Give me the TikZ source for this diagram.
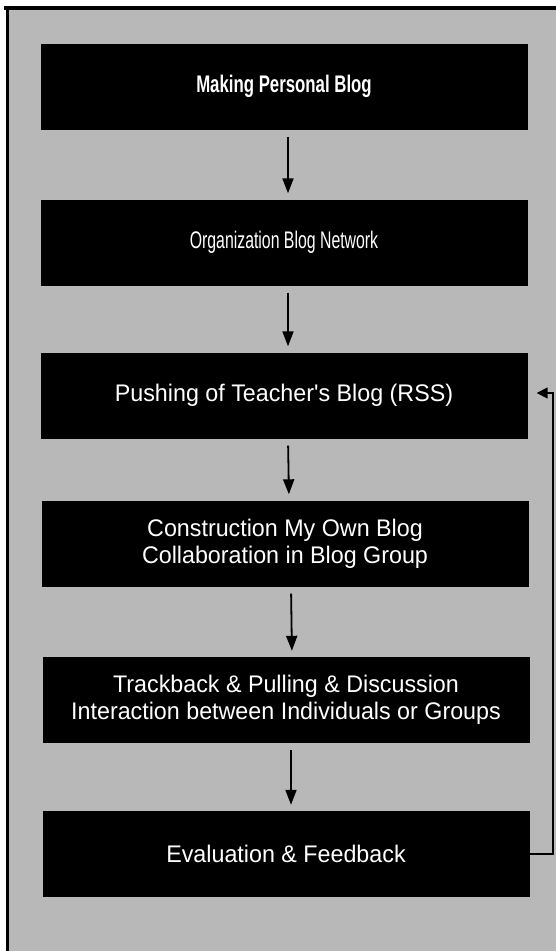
\documentclass[tikz,border=0pt]{standalone}
\usepackage{fontspec}
\usetikzlibrary{arrows.meta}
\newfontfamily\boxfont[FakeStretch=0.97]{Liberation Sans}
\newfontfamily\narrowfont[FakeStretch=0.66]{Liberation Sans}
\newfontfamily\narrowboldfont[FakeStretch=0.70]{Liberation Sans Bold}
\definecolor{bggray}{gray}{0.72}
\tikzset{
  stepbox/.style={fill=black, draw=none, minimum width=487pt, minimum height=86pt,
    text=white, align=center, inner sep=0pt, font=\boxfont\fontsize{24}{27}\selectfont},
  narrowbox/.style={stepbox, font=\narrowfont\fontsize{24}{27}\selectfont},
  narrowboldbox/.style={stepbox, font=\narrowboldfont\fontsize{24}{27}\selectfont},
  flow/.style={line width=1.8pt, -{Triangle[length=15pt,width=11pt]}, shorten <=7pt, shorten >=6pt},
  back/.style={line width=1.6pt, -{Triangle[length=11pt,width=11pt]}},
}
\begin{document}
\begin{tikzpicture}[x=1pt,y=-1pt]
\useasboundingbox (0,0) rectangle (556,951);
\fill[white] (0,0) rectangle (556,951);
\fill[bggray] (7,8) rectangle (556,951);
\draw[line width=4pt] (4,8) -- (556,8);
\draw[line width=3pt] (7,6) -- (7,951);

\node[narrowboldbox] (b1) at (284,86.5) {Making Personal Blog};
\node[narrowbox] (b2) at (284,242.5) {Organization Blog Network};
\node[stepbox] (b3) at (284,395.5) {Pushing of Teacher's Blog (RSS)};
\node[stepbox] (b4) at (285,543.5) {Construction My Own Blog\\Collaboration in Blog Group};
\node[stepbox] (b5) at (286,700) {Trackback \& Pulling \& Discussion\\Interaction between Individuals or Groups};
\node[stepbox] (b6) at (286,854) {Evaluation \& Feedback};

\draw[flow] ([xshift=4pt]b1.south) -- ([xshift=4pt]b2.north);
\draw[flow] ([xshift=4pt]b2.south) -- ([xshift=4pt]b3.north);
\draw[flow] ([xshift=4pt]b3.south) -- ([xshift=4pt]b4.north);
\draw[flow] ([xshift=6pt]b4.south) -- ([xshift=6pt]b5.north);
\draw[flow] ([xshift=5pt]b5.south) -- ([xshift=5pt]b6.north);

\coordinate (fb) at (553,0);
\draw[back, shorten >=9pt] (b6.east) -- (b6.east -| fb) |- ([yshift=2.5pt]b3.east);
\end{tikzpicture}
\end{document}
